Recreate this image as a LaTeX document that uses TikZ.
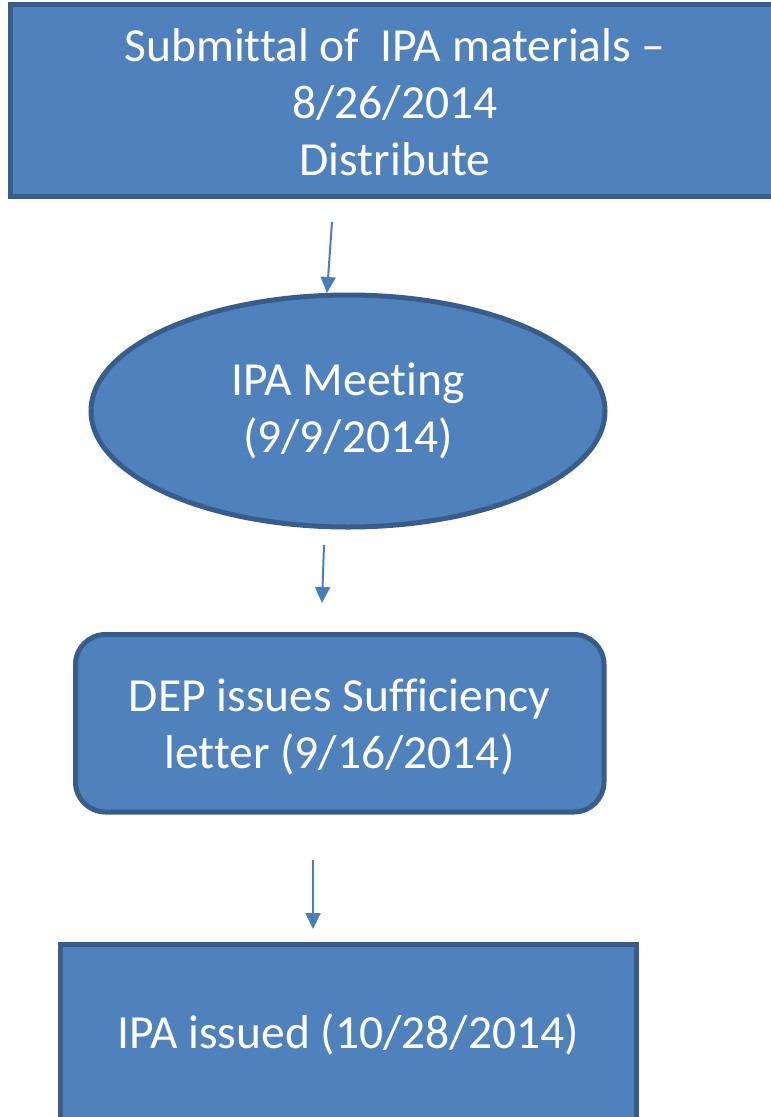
\documentclass[tikz,border=0pt]{standalone}
\usepackage{fontspec}
\setmainfont[Ligatures=CommonOff]{Carlito}
\usetikzlibrary{shapes.geometric,arrows.meta}
\definecolor{boxfill}{HTML}{4F81BD}
\definecolor{boxline}{HTML}{385D8A}
\definecolor{arrowcol}{HTML}{4A7EBB}
\tikzset{
  boxtext/.style={text=white,align=center,font=\fontsize{47.5}{57}\selectfont},
  shapebox/.style={fill=boxfill,draw=boxline,line width=5pt,boxtext,inner sep=0pt},
  flowarrow/.style={draw=arrowcol,line width=2pt,-{Triangle[length=16pt,width=15pt]}}
}
\begin{document}
\begin{tikzpicture}[x=1pt,y=-1pt]
\useasboundingbox (0,0) rectangle (771,1117);
% top box
\draw[shapebox] (10.5,4.5) rectangle (781,196.5);
\node[boxtext] (submit) at (395,102)
  {Submittal of\ \ IPA materials –\\8/26/2014\\Distribute};
% ellipse
\node[shapebox,ellipse,minimum width=514pt,minimum height=232pt] (meet) at (348,411)
  {IPA Meeting\\(9/9/2014)};
% rounded box
\draw[shapebox,rounded corners=30pt] (75.5,634.5) rectangle (604,812);
\node[boxtext] (dep) at (339.5,727)
  {DEP issues Sufficiency\\letter (9/16/2014)};
% bottom box
\draw[shapebox] (60,944.5) rectangle (636,1125);
\node[boxtext] (issued) at (348,1034)
  {IPA issued (10/28/2014)};
% arrows
\coordinate (a1s) at (332,222); \coordinate (a1e) at (327,293);
\coordinate (a2s) at (324,545); \coordinate (a2e) at (322,603);
\coordinate (a3s) at (313,860); \coordinate (a3e) at (313,929);
\draw[flowarrow] (a1s) -- (a1e);
\draw[flowarrow] (a2s) -- (a2e);
\draw[flowarrow] (a3s) -- (a3e);
\end{tikzpicture}
\end{document}
